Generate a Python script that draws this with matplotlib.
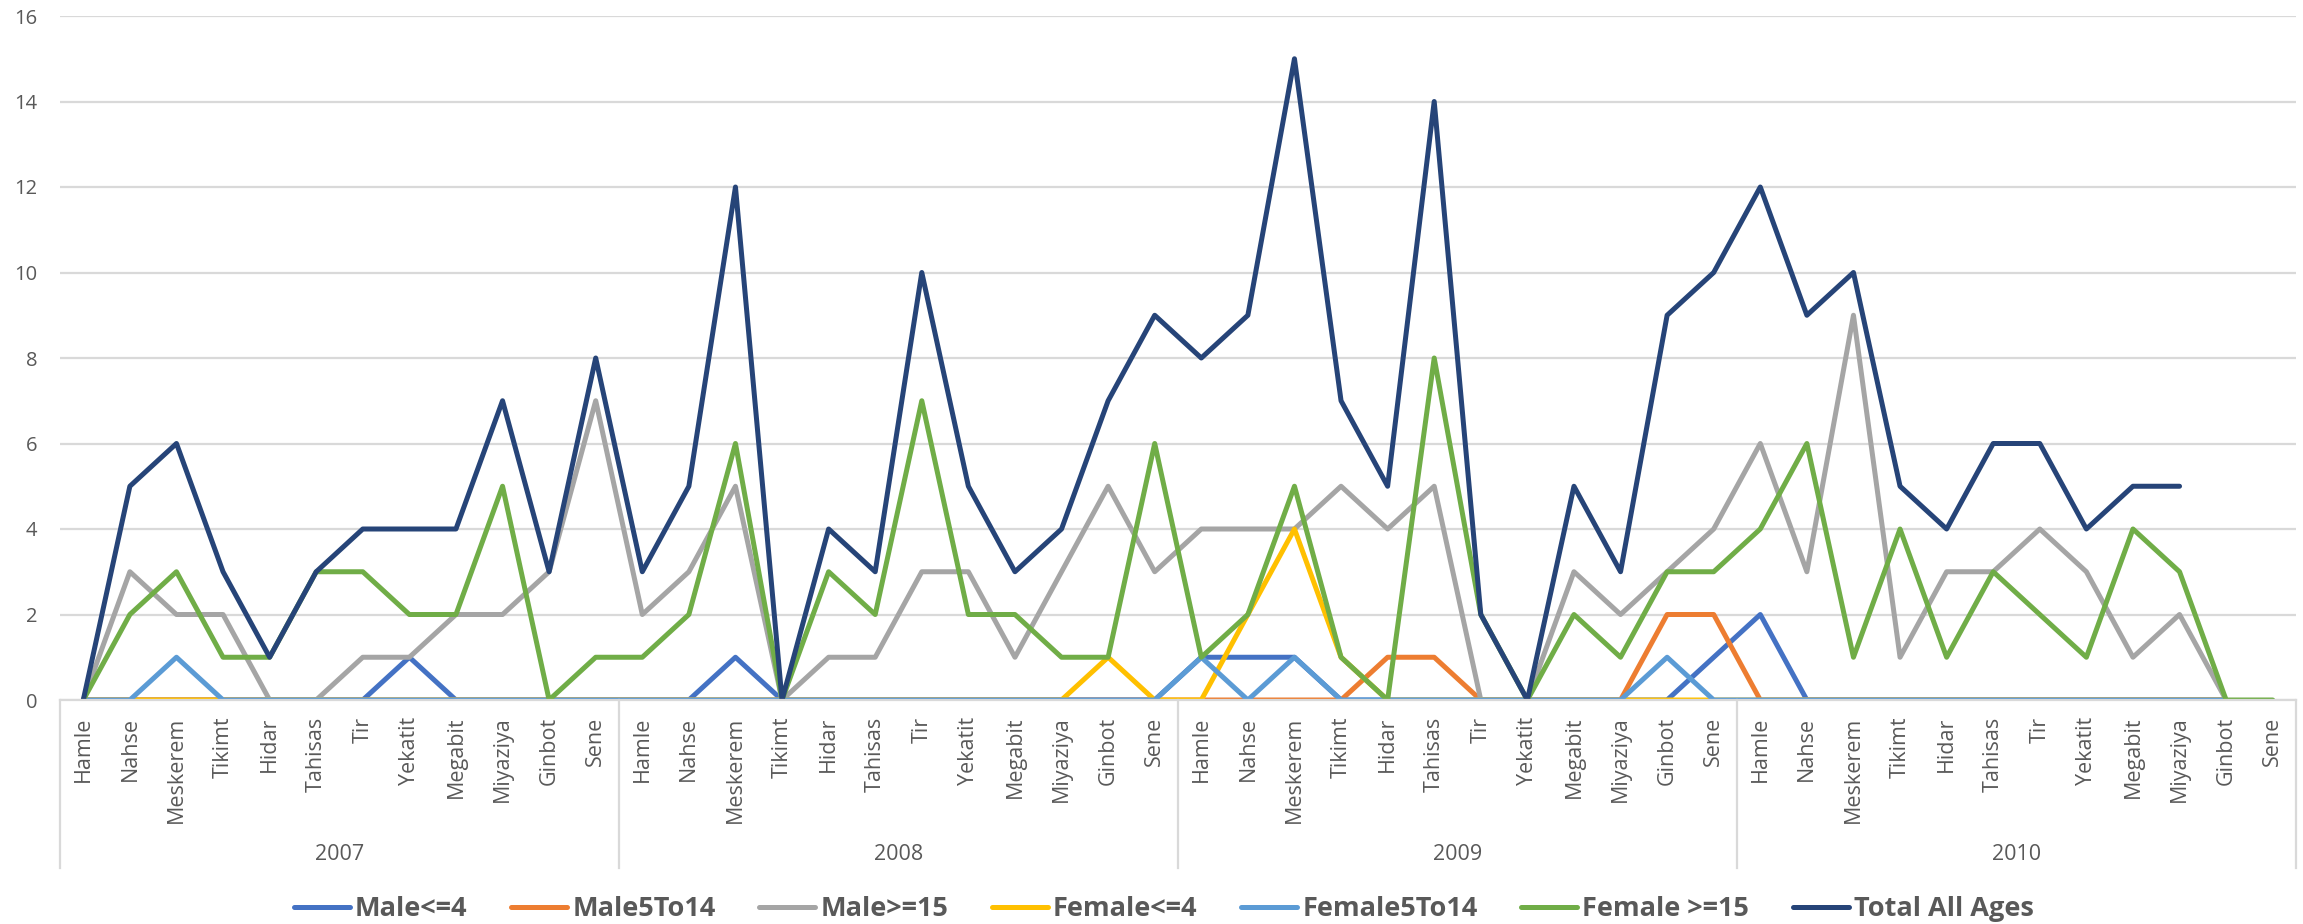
import numpy as np
import matplotlib
matplotlib.use("Agg")
import matplotlib.pyplot as plt
from matplotlib.lines import Line2D
from matplotlib import transforms
from matplotlib.font_manager import FontProperties

nan = np.nan
years = ["2007", "2008", "2009", "2010"]
months = ["Hamle", "Nahse", "Meskerem", "Tikimt", "Hidar", "Tahisas", "Tir",
          "Yekatit", "Megabit", "Miyaziya", "Ginbot", "Sene"]

male_le4 = [0, 0, 0, 0, 0, 0, 0, 1, 0, 0, 0, 0,
            0, 0, 1, 0, 0, 0, 0, 0, 0, 0, 0, 0,
            1, 1, 1, 0, 0, 0, 0, 0, 0, 0, 0, 1,
            2, 0, 0, 0, 0, 0, 0, 0, 0, 0, 0, nan]
male_5to14 = [0, 0, 0, 0, 0, 0, 0, 0, 0, 0, 0, 0,
              0, 0, 0, 0, 0, 0, 0, 0, 0, 0, 0, 0,
              0, 0, 0, 0, 1, 1, 0, 0, 0, 0, 2, 2,
              0, 0, 0, 0, 0, 0, 0, 0, 0, 0, 0, nan]
male_ge15 = [0, 3, 2, 2, 0, 0, 1, 1, 2, 2, 3, 7,
             2, 3, 5, 0, 1, 1, 3, 3, 1, 3, 5, 3,
             4, 4, 4, 5, 4, 5, 0, 0, 3, 2, 3, 4,
             6, 3, 9, 1, 3, 3, 4, 3, 1, 2, 0, nan]
female_le4 = [0, 0, 0, 0, 0, 0, 0, 0, 0, 0, 0, 0,
              0, 0, 0, 0, 0, 0, 0, 0, 0, 0, 1, 0,
              0, 2, 4, 1, 0, 0, 0, 0, 0, 0, 0, 0,
              0, 0, 0, 0, 0, 0, 0, 0, 0, 0, 0, nan]
female_5to14 = [0, 0, 1, 0, 0, 0, 0, 0, 0, 0, 0, 0,
                0, 0, 0, 0, 0, 0, 0, 0, 0, 0, 0, 0,
                1, 0, 1, 0, 0, 0, 0, 0, 0, 0, 1, 0,
                0, 0, 0, 0, 0, 0, 0, 0, 0, 0, 0, nan]
female_ge15 = [0, 2, 3, 1, 1, 3, 3, 2, 2, 5, 0, 1,
               1, 2, 6, 0, 3, 2, 7, 2, 2, 1, 1, 6,
               1, 2, 5, 1, 0, 8, 2, 0, 2, 1, 3, 3,
               4, 6, 1, 4, 1, 3, 2, 1, 4, 3, 0, 0]
total_all = [0, 5, 6, 3, 1, 3, 4, 4, 4, 7, 3, 8,
             3, 5, 12, 0, 4, 3, 10, 5, 3, 4, 7, 9,
             8, 9, 15, 7, 5, 14, 2, 0, 5, 3, 9, 10,
             12, 9, 10, 5, 4, 6, 6, 4, 5, 5, nan, nan]

series_names = ["Male<=4", "Male5To14", "Male>=15", "Female<=4",
                "Female5To14", "Female >=15", "Total All Ages"]
series_data = [male_le4, male_5to14, male_ge15, female_le4,
               female_5to14, female_ge15, total_all]
colors = ["#4472C4", "#ED7D31", "#A5A5A5", "#FFC000",
          "#5B9BD5", "#70AD47", "#264478"]

W, H = 2303, 924
fig = plt.figure(figsize=(W / 100, H / 100), dpi=100)
L, R, T, B = 60, 2296, 16, 700
ax = fig.add_axes([L / W, 1 - B / H, (R - L) / W, (B - T) / H])

n = len(months) * len(years)
x = np.arange(n)
for name, data, c in zip(series_names, series_data, colors):
    ax.plot(x, np.array(data, dtype=float), color=c, lw=3.6,
            solid_joinstyle="round", solid_capstyle="round", label=name)

ax.set_xlim(-0.5, n - 0.5)
ax.set_ylim(0, 16)
ax.set_yticks(np.arange(0, 17, 2))
ax.grid(axis="y", color="#D9D9D9", lw=1.6)
ax.set_axisbelow(True)
for s in ["top", "right", "left"]:
    ax.spines[s].set_visible(False)
ax.spines["bottom"].set_color("#D9D9D9")
ax.spines["bottom"].set_linewidth(1.6)

tick_color = "#595959"
ax.tick_params(axis="y", length=0, pad=16.5, labelsize=14.5, labelcolor=tick_color)
for lab in ax.get_yticklabels():
    lab.set_family("Open Sans")

ax.set_xticks(x)
ax.set_xticklabels(months * len(years), rotation=90, family="Open Sans",
                   fontsize=15.5, color=tick_color)
ax.tick_params(axis="x", length=0, pad=12)

# multi-level category axis: group separators and year labels
trans = transforms.blended_transform_factory(ax.transData, fig.transFigure)
y_top = 1 - B / H
y_bot = 1 - 868 / H
for k in range(len(years) + 1):
    xs = k * len(months) - 0.5
    fig.add_artist(Line2D([xs, xs], [y_top, y_bot], transform=trans,
                          color="#D9D9D9", lw=1.6, clip_on=False))
for k, yr in enumerate(years):
    xc = k * len(months) + (len(months) - 1) / 2
    fig.text(xc, 1 - 854 / H, yr, transform=trans, ha="center", va="center",
             fontsize=15.5, family="Open Sans", color=tick_color)

handles = [Line2D([], [], color=c, lw=3.6, solid_capstyle="round") for c in colors]
fig.legend(handles, series_names, loc="center",
           bbox_to_anchor=(1164 / W, 1 - 909 / H), ncol=7, frameon=False,
           prop=FontProperties(family="Open Sans", weight="bold", size=19.5),
           handlelength=2.05, handletextpad=0.2, columnspacing=1.62,
           labelcolor=tick_color)

fig.savefig("out.png", dpi=100)
